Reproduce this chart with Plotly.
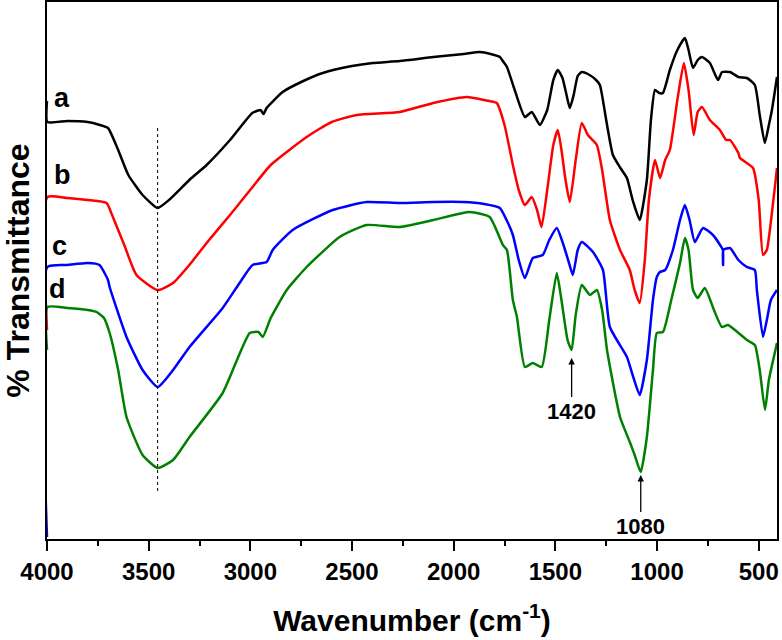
import plotly.graph_objects as go

# Wavenumbers (cm-1) and relative transmittance (arbitrary units)
a_w = [4000,3998,3900,3800,3740,3700,3650,3600,3530,3456,3400,3300,3215,3100,2990,2950,2935,2920,2841,2750,2644,2500,2398,2265,2100,1950,1872,1800,1773,1755,1738,1700,1650,1616,1576,1540,1510,1488,1465,1445,1429,1410,1390,1370,1340,1300,1281,1250,1217,1180,1148,1120,1085,1050,1030,1010,990,971,937,900,863,845,823,800,779,740,700,680,641,600,558,519,495,470,450,435,410]
a_y = [101,122,121,122,125,128,150,175,195,208,200,180,165,140,113,110,114,108,92,82,73,66,63,61,57,54,52,55,57,62,67,90,117,112,125,110,80,70,78,95,108,95,76,72,74,80,85,120,155,168,178,200,220,180,120,90,93,93,70,50,38,50,68,60,57,63,80,72,72,77,78,85,115,143,125,110,77]

b_w = [4000,3998,3900,3800,3707,3680,3620,3560,3456,3380,3300,3215,3100,2989,2900,2723,2600,2477,2265,2100,1935,1850,1788,1750,1709,1680,1650,1616,1590,1568,1540,1510,1488,1470,1450,1429,1400,1370,1340,1296,1270,1232,1182,1134,1110,1085,1060,1040,1010,985,960,937,900,868,845,820,800,779,740,691,660,641,600,592,528,500,479,460,445,410]
b_y = [330,197,198,200,203,215,245,275,290,283,265,243,215,187,165,137,122,115,112,103,97,100,103,125,165,190,205,197,210,227,190,145,130,150,180,202,160,123,135,145,170,220,250,270,290,303,260,200,160,178,160,150,100,63,90,135,112,107,120,130,140,140,153,158,168,200,255,250,230,168]

c_w = [4000,3998,3900,3800,3742,3700,3692,3609,3530,3456,3380,3299,3136,3053,2989,2920,2890,2792,2595,2428,2265,2100,1955,1850,1773,1740,1709,1680,1650,1611,1562,1530,1493,1460,1430,1414,1390,1370,1315,1266,1232,1148,1120,1085,1050,1020,1001,986,960,922,887,863,840,814,774,725,690,676,675,674,641,600,558,519,509,479,460,440,410]
c_y = [537,267,265,263,265,280,287,337,370,387,370,347,308,283,265,262,250,230,210,202,203,202,202,204,208,220,235,260,278,258,255,240,228,245,265,275,250,242,252,270,327,357,375,395,360,300,277,272,270,250,220,205,220,242,228,235,245,250,265,250,248,260,267,270,290,337,320,300,290]

d_w = [4000,3998,3900,3800,3756,3720,3692,3650,3609,3530,3456,3380,3299,3136,3003,2960,2939,2900,2821,2723,2561,2428,2265,2100,1921,1823,1758,1738,1709,1689,1650,1611,1567,1530,1493,1470,1440,1420,1400,1370,1330,1296,1270,1246,1182,1134,1110,1080,1050,1020,1001,971,930,887,863,845,823,800,765,720,681,651,558,519,495,469,450,410]
d_y = [350,307,308,310,312,318,333,370,417,455,468,460,437,393,333,332,337,318,290,267,237,225,227,220,212,217,245,250,300,317,367,363,367,320,273,300,340,350,315,285,295,290,310,350,417,442,455,472,437,370,333,332,300,263,238,250,290,298,288,310,327,325,340,345,370,410,380,343]

# convert picture-down values to upward transmittance
def up(v):
    return [540 - t for t in v]

series = [("a", a_w, a_y, "black"), ("b", b_w, b_y, "#ff0000"),
          ("c", c_w, c_y, "#0000ff"), ("d", d_w, d_y, "#008000")]

label_pos = {"a": (3924, 442), "b": (3924, 365), "c": (3938, 294), "d": (3948, 251)}

# marked peaks: (wavenumber, arrow tip, label centre)
peaks = [(1420, 182, 129), (1080, 65, 14)]

tick_vals = [4000, 3500, 3000, 2500, 2000, 1500, 1000, 500]
tick_text = [str(v) for v in tick_vals]

FONT = "Liberation Sans, Arial"

fig = go.Figure()
for name, w, y, col in series:
    fig.add_trace(go.Scatter(x=w, y=up(y), mode="lines",
                             line=dict(color=col, width=2.5, shape="spline", smoothing=0.5),
                             name=name, showlegend=False, hoverinfo="skip"))

# dotted guide line at 3456
fig.add_trace(go.Scatter(x=[3456, 3456], y=[412, 47], mode="lines",
                         line=dict(color="black", width=1, dash="dot"), showlegend=False,
                         hoverinfo="skip"))

for name, (lx, ly) in label_pos.items():
    fig.add_annotation(x=lx, y=ly, text="<b>%s</b>" % name, showarrow=False,
                       font=dict(family=FONT, size=27, color="black"))

for pw, tip, lab in peaks:
    fig.add_annotation(x=pw, y=tip, ax=pw, ay=lab, axref="x", ayref="y",
                       text="<b>%d</b>" % pw, showarrow=True, arrowhead=2, arrowsize=1,
                       arrowwidth=1.3, arrowcolor="black", standoff=0, startstandoff=0,
                       font=dict(family=FONT, size=22, color="black"))

fig.update_layout(
    width=782, height=640,
    margin=dict(l=47, r=5, t=2, b=101, autoexpand=False),
    plot_bgcolor="white", paper_bgcolor="white",
    font=dict(family=FONT, color="black"),
    xaxis=dict(range=[4000, 410], tickvals=tick_vals, ticktext=tick_text,
               ticks="outside", ticklen=10, tickwidth=1.5, tickcolor="black",
               minor=dict(ticks="outside", ticklen=5, tickwidth=1.5, tickcolor="black", dtick=250),
               showline=True, linecolor="black", linewidth=2, mirror=True,
               showgrid=False, zeroline=False, automargin=False,
               tickfont=dict(family=FONT, size=24, color="black", weight="bold"),
               title=dict(text="<b>Wavenumber (cm<sup>-1</sup>)</b>",
                          font=dict(family=FONT, size=30, color="black"), standoff=26)),
    yaxis=dict(range=[1, 538], showticklabels=False, ticks="",
               showline=True, linecolor="black", linewidth=2, mirror=True,
               showgrid=False, zeroline=False, automargin=False,
               title=dict(text="<b>% Transmittance</b>",
                          font=dict(family=FONT, size=32, color="black"), standoff=10)),
)

fig.write_html("out.html", config={"displayModeBar": False},
               post_script="document.body.style.margin='0';document.body.style.overflow='hidden';")
